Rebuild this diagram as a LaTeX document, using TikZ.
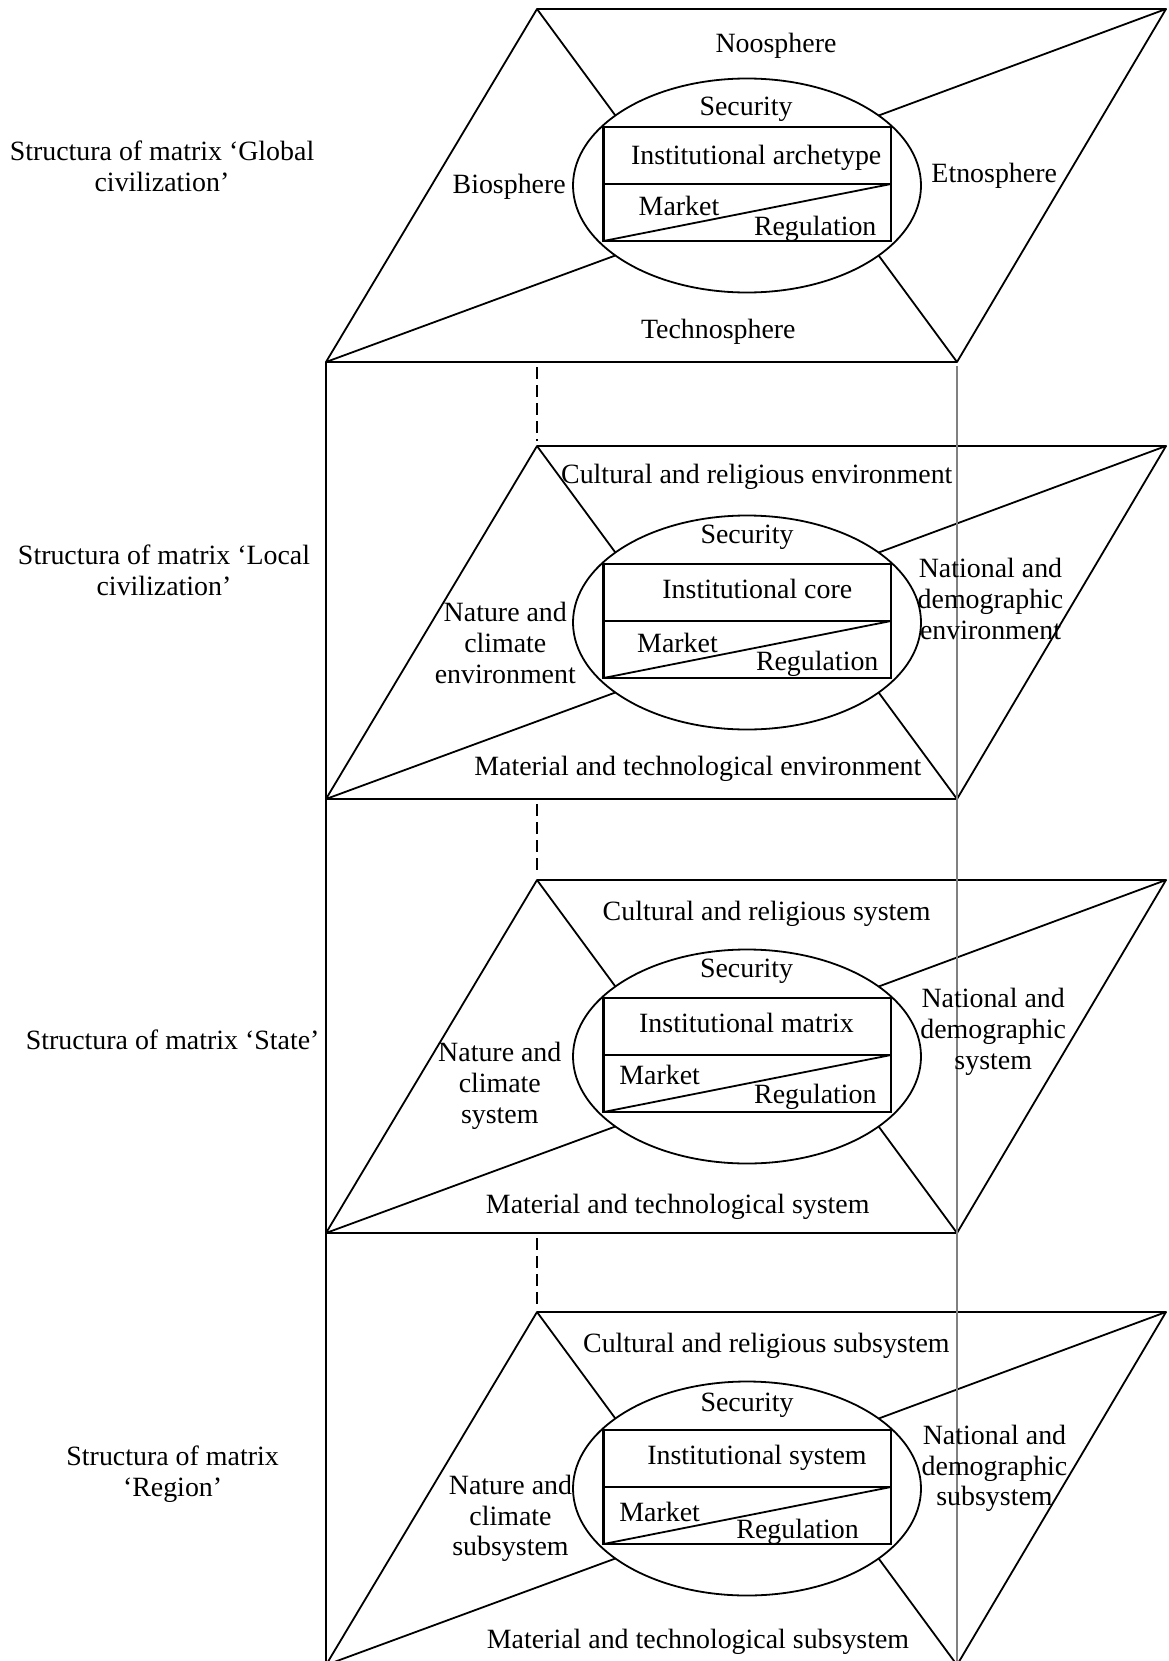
\documentclass[tikz,border=0pt]{standalone}
\usepackage{fontspec}
\setmainfont{Liberation Serif}
\usetikzlibrary{shapes.geometric}
\begin{document}
\begin{tikzpicture}[x=1bp,y=-1bp,
  edge/.style={line width=1.8bp, line join=round},
  ell/.style={draw, ellipse, line width=1.8bp, minimum width=348bp, minimum height=214bp, inner sep=0pt, outer sep=0pt},
  inst/.style={draw, line width=2.3bp, minimum width=287.5bp, minimum height=114bp, inner sep=0pt, outer sep=0pt},
  lbl/.style={font=\fontsize{28}{30.8}\selectfont, align=center, inner sep=0pt, yshift=-2.5bp},
  dashedlink/.style={line width=1.6bp, dash pattern=on 12bp off 6bp, shorten >=5bp, shorten <=5bp},
  grayline/.style={line width=1.4bp, draw=black!50, shorten <=4bp},
]
\useasboundingbox (0,0) rectangle (1168,1661);
\foreach \T/\i in {9/1,446/2,880/3,1312/4}{
  \coordinate (tl\i) at (537,\T);
  \coordinate (tr\i) at (1166,\T);
  \coordinate (br\i) at (957,\T+353);
  \coordinate (bl\i) at (326,\T+353);
  \node[ell] (e\i) at (747,\T+176.5) {};
  \node[inst] (r\i) at (747.25,\T+175) {};
  \draw[edge] (tl\i) -- (tr\i) -- (br\i) -- (bl\i) -- cycle;
  \draw[line width=2.3bp] (r\i.west) -- (r\i.east);
  \draw[edge] (r\i.south west) -- (r\i.east);
  \draw[edge] (tl\i) -- (e\i.152);
  \draw[edge] (tr\i) -- (e\i.28);
  \draw[edge] (bl\i) -- (e\i.208);
  \draw[edge] (br\i) -- (e\i.332);
}
% vertical connections
\draw[edge] (bl1) -- (bl2) -- (bl3) -- (bl4);
\draw[dashedlink] (tl2 |- bl1) -- (tl2);
\draw[dashedlink] (tl3 |- bl2) -- (tl3);
\draw[dashedlink] (tl4 |- bl3) -- (tl4);
\coordinate (gend) at (957,1661);
\draw[grayline] (br1) -- (gend);

% Panel 1
\node[lbl] (L1) at (162,164) {Structura of matrix ‘Global\\civilization’};
\node[lbl] (no1) at (776,42.8) {Noosphere};
\node[lbl] (s1) at (746,106.3) {Security};
\node[lbl] (i1) at (756.2,155.7) {Institutional archetype};
\node[lbl] (m1) at (679,203.3) {Market};
\node[lbl] (g1) at (815.2,226) {Regulation};
\node[lbl] (b1) at (509.2,184.3) {Biosphere};
\node[lbl] (et1) at (994.2,173) {Etnosphere};
\node[lbl] (tc1) at (718.3,329.7) {Technosphere};

% Panel 2
\node[lbl] (L2) at (164,567.6) {Structura of matrix ‘Local\\civilization’};
\node[lbl] (cr2) at (756.8,474.5) {Cultural and religious environment};
\node[lbl] (s2) at (747,534.5) {Security};
\node[lbl] (i2) at (757.3,586.3) {Institutional core};
\node[lbl] (m2) at (677.5,640) {Market};
\node[lbl] (g2) at (817.2,661.5) {Regulation};
\node[lbl] (nc2) at (505.3,640.3) {Nature and\\climate\\environment};
\node[lbl] (nd2) at (990.5,596.3) {National and\\demographic\\environment};
\node[lbl] (mt2) at (697.8,766.3) {Material and technological environment};

% Panel 3
\node[lbl] (L3) at (172.6,1037.7) {Structura of matrix ‘State’};
\node[lbl] (cr3) at (766.6,911) {Cultural and religious system};
\node[lbl] (s3) at (746.5,968.3) {Security};
\node[lbl] (i3) at (746.5,1020) {Institutional matrix};
\node[lbl] (m3) at (659.7,1072) {Market};
\node[lbl] (g3) at (815.4,1094) {Regulation};
\node[lbl] (nc3) at (499.8,1083.5) {Nature and\\climate\\system};
\node[lbl] (nd3) at (993.2,1029.5) {National and\\demographic\\system};
\node[lbl] (mt3) at (677.7,1204.3) {Material and technological system};

% Panel 4
\node[lbl] (L4) at (172.6,1471.9) {Structura of matrix\\‘Region’};
\node[lbl] (cr4) at (766.4,1343.7) {Cultural and religious subsystem};
\node[lbl] (s4) at (747,1403) {Security};
\node[lbl] (i4) at (757,1455.8) {Institutional system};
\node[lbl] (m4) at (659.7,1509) {Market};
\node[lbl] (g4) at (797.6,1529.5) {Regulation};
\node[lbl] (nc4) at (510.5,1516) {Nature and\\climate\\subsystem};
\node[lbl] (nd4) at (994.5,1466) {National and\\demographic\\subsystem};
\node[lbl] (mt4) at (698,1639) {Material and technological subsystem};
\end{tikzpicture}
\end{document}
